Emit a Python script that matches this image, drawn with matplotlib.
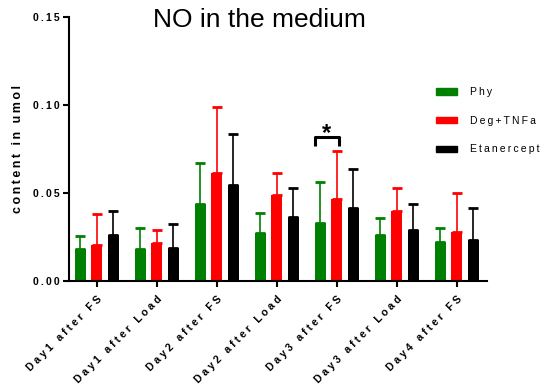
import matplotlib
matplotlib.use("Agg")
import matplotlib.pyplot as plt
import numpy as np
from matplotlib.patches import Patch

plt.rcParams['font.family'] = ['Liberation Sans', 'DejaVu Sans']

categories = ["Day1 after FS", "Day1 after Load", "Day2 after FS", "Day2 after Load",
              "Day3 after FS", "Day3 after Load", "Day4 after FS"]
series_names = ["Phy", "Deg+TNFa", "Etanercept"]
phy_mean = [0.0180, 0.0180, 0.0436, 0.0269, 0.0326, 0.0260, 0.0218]
phy_err = [0.0074, 0.0121, 0.0231, 0.0114, 0.0237, 0.0098, 0.0080]
deg_mean = [0.0201, 0.0213, 0.0614, 0.0487, 0.0462, 0.0396, 0.0278]
deg_err = [0.0178, 0.0075, 0.0375, 0.0123, 0.0277, 0.0129, 0.0220]
eta_mean = [0.0258, 0.0186, 0.0542, 0.0364, 0.0411, 0.0286, 0.0233]
eta_err = [0.0138, 0.0134, 0.0293, 0.0165, 0.0222, 0.0152, 0.0182]
yticks = [0.00, 0.05, 0.10, 0.15]
sig_group = 4          # "Day3 after FS": Phy vs Deg+TNFa
sig_level = 0.0818

colors = ["#008000", "#ff0000", "#000000"]
means = [phy_mean, deg_mean, eta_mean]
errs = [phy_err, deg_err, eta_err]


def spaced(s, sep="\u2009"):
    return sep.join(list(s))


W, H = 554, 386
fig = plt.figure(figsize=(W / 100, H / 100), dpi=100)
ax = fig.add_axes([69 / W, 1 - 280.7 / H, (487.3 - 69) / W, (280.7 - 16.7) / H])

x = np.arange(len(categories))
offsets = [-0.275, 0.0, 0.275]
bw = 0.185
for m, e, c, off in zip(means, errs, colors, offsets):
    xs = x + off
    ax.bar(xs, m, width=bw, color=c, zorder=2)
    ax.errorbar(xs, m, yerr=[np.zeros(len(e)), e], fmt='none', ecolor=c,
                elinewidth=1.2, capsize=3.6, capthick=2.0, zorder=3)

ax.set_xlim(-0.46, 6.51)
ax.set_ylim(0, 0.15)
ax.set_yticks(yticks)
ax.set_yticklabels([spaced(f"{v:.2f}") for v in yticks], fontsize=7.5, fontweight='bold')
ax.set_xticks(x)
ax.set_xticklabels([spaced(c, " ") for c in categories], fontsize=7.6, fontweight='bold',
                   rotation=45, ha='right', va='top', rotation_mode='anchor')
for s in ['top', 'right']:
    ax.spines[s].set_visible(False)
for s in ['left', 'bottom']:
    ax.spines[s].set_linewidth(1.5)
ax.tick_params(axis='both', width=1.5, length=4, direction='out', pad=3)
ax.tick_params(axis='x', length=4.5, pad=5)

fig.text(18 / W, 1 - 149 / H, spaced("content in umol"), rotation=90, ha='center', va='center',
         fontsize=9, fontweight='bold')
fig.text(259 / W, 1 - 27 / H, "NO in the medium", ha='center', va='baseline', fontsize=19)

# significance bracket
x1 = sig_group + offsets[0] - 0.09
x2 = sig_group + offsets[1] + 0.04
leg = 0.005
ax.plot([x1, x1, x2, x2], [sig_level - leg, sig_level, sig_level, sig_level - leg],
        color='black', lw=2.2, solid_joinstyle='round', solid_capstyle='butt', zorder=4)
ax.text((x1 + x2) / 2, sig_level - 0.0045, "*", ha='center', va='bottom', fontsize=17,
        fontweight='bold')

handles = [Patch(facecolor=c, edgecolor=c) for c in colors]
fig.legend(handles, [spaced(n) for n in series_names], loc='upper left',
           bbox_to_anchor=(435.7 / W, 1 - 87 / H), frameon=False, fontsize=7.5,
           handlelength=2.0, handleheight=0.58, handletextpad=1.3, labelspacing=1.8,
           borderpad=0, borderaxespad=0)

fig.savefig("out.png", dpi=100)
